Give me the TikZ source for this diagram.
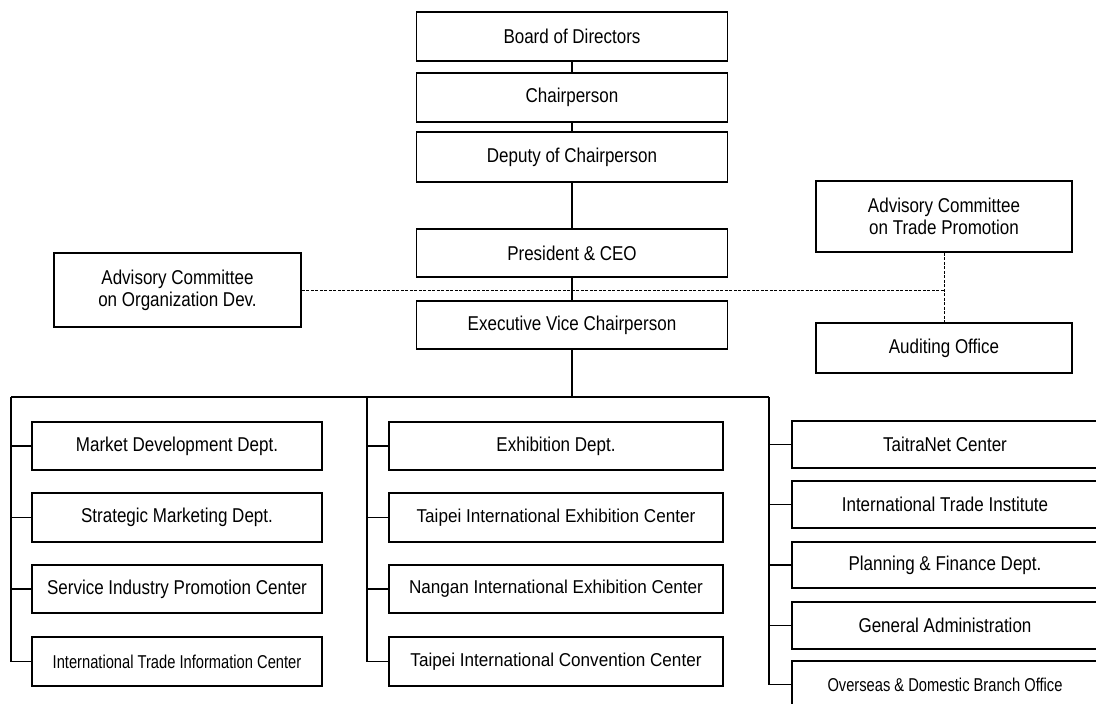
\documentclass[tikz,border=0pt]{standalone}
\usepackage{fontspec}
\setmainfont{Liberation Sans}
\newfontfamily\bigf[FakeStretch=0.85]{Liberation Sans}
\newfontfamily\smf[FakeStretch=0.79]{Liberation Sans}
\newfontfamily\midf[FakeStretch=0.92]{Liberation Sans}
\begin{document}
\begin{tikzpicture}[x=1pt,y=-1pt,
  box/.style={draw, line width=1.8pt, inner sep=0pt, align=center,
    font={\bigf\fontsize{20}{22}\selectfont}},
  smallt/.style={font={\smf\fontsize{18.6}{21}\selectfont}},
  midt/.style={font={\midf\fontsize{18.6}{21}\selectfont}},
  conn/.style={line width=1.8pt},
  dashline/.style={line width=0.8pt, dash pattern=on 3pt off 1.5pt}]
\clip (0,0) rectangle (1096,704);
% top chain
\node[box, minimum width=311pt, minimum height=49pt] (board) at (572,36.5) {Board of Directors};
\node[box, minimum width=311pt, minimum height=49pt] (chair) at (572,97.5) {Chairperson};
\node[box, minimum width=311pt, minimum height=50pt] (deputy) at (572,157) {Deputy of Chairperson};
\node[box, minimum width=311pt, minimum height=48pt] (pres) at (572,253) {President \& CEO};
\node[box, minimum width=311pt, minimum height=48pt] (evc) at (572,325) {Executive Vice Chairperson};
% side boxes
\node[box, minimum width=247pt, minimum height=74pt] (org) at (177.5,290) {Advisory Committee\\on Organization Dev.};
\node[box, minimum width=256pt, minimum height=71pt] (trade) at (944,216.5) {Advisory Committee\\on Trade Promotion};
\node[box, minimum width=256pt, minimum height=50pt] (audit) at (944,348) {Auditing Office};
% left column
\node[box, minimum width=290pt, minimum height=48pt] (l1) at (177,446) {Market Development Dept.};
\node[box, minimum width=290pt, minimum height=49pt] (l2) at (177,517.5) {Strategic Marketing Dept.};
\node[box, minimum width=290pt, minimum height=48pt] (l3) at (177,589) {Service Industry Promotion Center};
\node[box, smallt, minimum width=290pt, minimum height=49pt] (l4) at (177,661.5) {International Trade Information Center};
% middle column
\node[box, minimum width=334pt, minimum height=48pt] (m1) at (556,446) {Exhibition Dept.};
\node[box, midt, minimum width=334pt, minimum height=49pt] (m2) at (556,517.5) {Taipei International Exhibition Center};
\node[box, midt, minimum width=334pt, minimum height=48pt] (m3) at (556,589) {Nangan International Exhibition Center};
\node[box, midt, minimum width=334pt, minimum height=49pt] (m4) at (556,661.5) {Taipei International Convention Center};
% right column
\node[box, minimum width=306pt, minimum height=47pt] (r1) at (945,444.5) {TaitraNet Center};
\node[box, minimum width=306pt, minimum height=47pt] (r2) at (945,504.5) {International Trade Institute};
\node[box, minimum width=306pt, minimum height=46pt] (r3) at (945,565) {Planning \& Finance Dept.};
\node[box, minimum width=306pt, minimum height=47pt] (r4) at (945,625.5) {General Administration};
\node[box, smallt, minimum width=306pt, minimum height=47pt] (r5) at (945,684.5) {Overseas \& Domestic Branch Office};
% bus coordinates
\coordinate (busL) at (11,397);
\coordinate (busM) at (367,397);
\coordinate (busR) at (769,397);
% spine
\draw[conn] (board.south) -- (chair.north);
\draw[conn] (chair.south) -- (deputy.north);
\draw[conn] (deputy.south) -- (pres.north);
\draw[conn] (pres.south) -- (evc.north);
\draw[conn] (evc.south) -- (evc.south |- busL);
\draw[conn] (busL) -- (busR);
% left branch
\draw[conn] (busL) |- (l4.west);
\draw[conn] (l1.west -| busL) -- (l1.west);
\draw[conn] (l2.west -| busL) -- (l2.west);
\draw[conn] (l3.west -| busL) -- (l3.west);
% middle branch
\draw[conn] (busM) |- (m4.west);
\draw[conn] (m1.west -| busM) -- (m1.west);
\draw[conn] (m2.west -| busM) -- (m2.west);
\draw[conn] (m3.west -| busM) -- (m3.west);
% right branch
\draw[conn] (busR) |- (r5.west);
\draw[conn] (r1.west -| busR) -- (r1.west);
\draw[conn] (r2.west -| busR) -- (r2.west);
\draw[conn] (r3.west -| busR) -- (r3.west);
\draw[conn] (r4.west -| busR) -- (r4.west);
% dashed advisory links
\draw[dashline] (org.east) -- (org.east -| trade.south);
\draw[dashline] (trade.south) -- (audit.north);
\end{tikzpicture}
\end{document}
